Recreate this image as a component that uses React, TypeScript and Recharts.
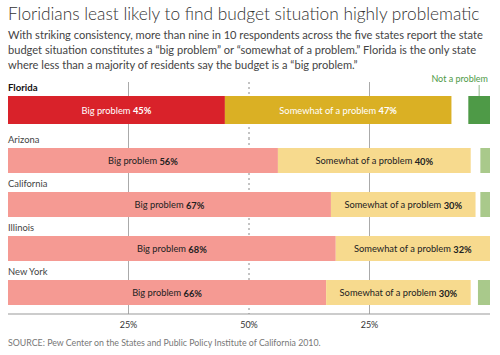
import React from "react";
import { BarChart, Bar, XAxis, YAxis, CartesianGrid, LabelList } from "recharts";

const states = ["Florida", "Arizona", "California", "Illinois", "New York"];
const bigProblem = [45, 56, 67, 68, 66];
const somewhatProblem = [47, 40, 30, 32, 30];
// widths of the green "Not a problem" stubs as drawn in the picture
const notAProblem = [4.5, 2, 2, 0, 2.5];
const axisTicks = [25, 50, 75];
const tickLabels: Record<number, string> = { 25: "25%", 50: "50%", 75: "25%" };

const rows = states.map((state, i) => ({
  state,
  big: bigProblem[i],
  somewhat: somewhatProblem[i],
  gap: 100 - bigProblem[i] - somewhatProblem[i] - notAProblem[i],
  not: notAProblem[i],
}));

const FONT = "Lato, 'Open Sans', sans-serif";
const W = 500;
const M = { left: 8, right: 10 };

const strong = { big: "#d9222a", somewhat: "#dab024", not: "#4e9a47" };
const light = { big: "#f59a93", somewhat: "#f7da8e", not: "#a9c98b" };

const segLabel = (name: string, color: string) => (p: any) => {
  const { x, y, width, height, value } = p;
  if (!value) return null;
  return (
    <text x={x + width / 2} y={y + height / 2} textAnchor="middle" dominantBaseline="central"
      fontSize={9.3} fill={color} fontFamily={FONT}>
      {name} <tspan fontWeight={700}>{value}%</tspan>
    </text>
  );
};

const stateLabel = (bold: boolean) => (p: any) => {
  const { x, y, value } = p;
  return (
    <text x={x} y={y - 5} fontSize={bold ? 9.6 : 9.4} fill={bold ? "#111" : "#444"} fontWeight={bold ? 700 : 400}
      fontFamily={FONT}>
      {value}
    </text>
  );
};

const notLegend = (p: any) => {
  const { x, y, width } = p;
  const cx = x + width / 2;
  return (
    <g>
      <text x={x + width - 2} y={y - 14} textAnchor="end" fontSize={9} fill="#4e9a47" fontFamily={FONT}>
        Not a problem
      </text>
      <line x1={cx} x2={cx} y1={y - 11} y2={y} stroke="#8fb98a" strokeWidth={1} />
    </g>
  );
};

// vertical grid positions through the x scale
const vGen = (vals: number[]) => (props: any) => {
  const s = props.xAxis?.scale;
  if (typeof s === "function") return vals.map((v) => s(v));
  const o = props.offset;
  return vals.map((v) => o.left + (o.width * v) / 100);
};

const grids = [
  <CartesianGrid key="solid" horizontal={false} stroke="#aaa" verticalCoordinatesGenerator={vGen([25, 75])} />,
  <CartesianGrid key="dash" horizontal={false} stroke="#888" strokeDasharray="2 3" verticalCoordinatesGenerator={vGen([50])} />,
];

export default function App() {
  return (
    <div style={{ position: "absolute", left: 0, top: 0, width: W, height: 355, background: "#fff", fontFamily: FONT }}>
      <div style={{ position: "absolute", left: 8, top: 3, fontSize: 17.3, color: "#333", fontWeight: 300, whiteSpace: "nowrap" }}>
        Floridians least likely to find budget situation highly problematic
      </div>
      <div style={{ position: "absolute", left: 8, top: 27, fontSize: 11.1, lineHeight: "15px", color: "#444", whiteSpace: "nowrap" }}>
        <div>With striking consistency, more than nine in 10 respondents across the five states report the state</div>
        <div>budget situation constitutes a “big problem” or “somewhat of a problem.” Florida is the only state</div>
        <div>where less than a majority of residents say the budget is a “big problem.”</div>
      </div>

      <div style={{ position: "absolute", left: 0, top: 60 }}>
        <BarChart width={W} height={78} data={rows.slice(0, 1)} layout="vertical"
          margin={{ top: 22, bottom: 0, left: M.left, right: M.right }} barSize={28}>
          <XAxis type="number" domain={[0, 100]} hide />
          <YAxis type="category" dataKey="state" hide />
          {grids}
          <Bar dataKey="big" stackId="a" fill={strong.big} isAnimationActive={false}>
            <LabelList dataKey="big" content={segLabel("Big problem", "#fff")} />
            <LabelList dataKey="state" content={stateLabel(true)} />
          </Bar>
          <Bar dataKey="somewhat" stackId="a" fill={strong.somewhat} isAnimationActive={false}>
            <LabelList dataKey="somewhat" content={segLabel("Somewhat of a problem", "#fff")} />
          </Bar>
          <Bar dataKey="gap" stackId="a" fill="transparent" isAnimationActive={false} />
          <Bar dataKey="not" stackId="a" fill={strong.not} isAnimationActive={false}>
            <LabelList dataKey="not" content={notLegend} />
          </Bar>
        </BarChart>
      </div>

      <div style={{ position: "absolute", left: 0, top: 125 }}>
        <BarChart width={W} height={219} data={rows.slice(1)} layout="vertical"
          margin={{ top: 13, bottom: 0, left: M.left, right: M.right }} barSize={25}>
          <XAxis type="number" domain={[0, 100]} ticks={axisTicks} tickFormatter={(v) => tickLabels[v]}
            axisLine={{ stroke: "#999" }} tickLine={false} height={30}
            tick={{ fontSize: 9, fill: "#333", fontFamily: FONT }} />
          <YAxis type="category" dataKey="state" hide />
          {grids}
          <Bar dataKey="big" stackId="a" fill={light.big} isAnimationActive={false}>
            <LabelList dataKey="big" content={segLabel("Big problem", "#222")} />
            <LabelList dataKey="state" content={stateLabel(false)} />
          </Bar>
          <Bar dataKey="somewhat" stackId="a" fill={light.somewhat} isAnimationActive={false}>
            <LabelList dataKey="somewhat" content={segLabel("Somewhat of a problem", "#222")} />
          </Bar>
          <Bar dataKey="gap" stackId="a" fill="transparent" isAnimationActive={false} />
          <Bar dataKey="not" stackId="a" fill={light.not} isAnimationActive={false} />
        </BarChart>
      </div>

      <div style={{ position: "absolute", left: 8, top: 337, fontSize: 8.8, color: "#777", whiteSpace: "nowrap" }}>
        SOURCE: Pew Center on the States and Public Policy Institute of California 2010.
      </div>
    </div>
  );
}
